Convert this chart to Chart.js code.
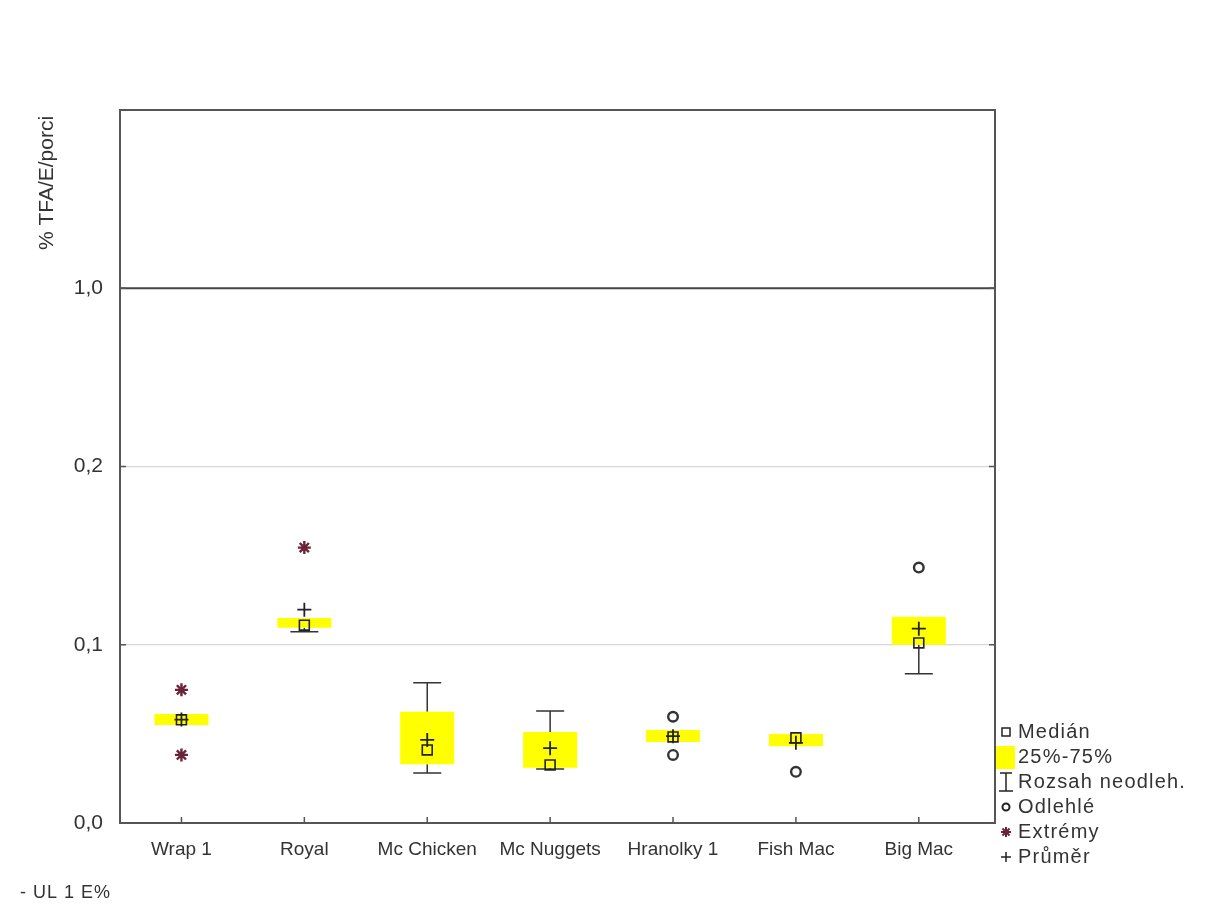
<!DOCTYPE html>
<html>
<head>
<meta charset="utf-8">
<script src="https://cdn.jsdelivr.net/npm/chart.js@4.4.0/dist/chart.umd.min.js"></script>
<style>
  html, body { margin: 0; padding: 0; background: #fff; }
</style>
</head>
<body>
<canvas id="tfaChart" width="1209" height="908"></canvas>
<script>
// categories and per-product statistics (% TFA/E/porci)
const categories = ['Wrap 1', 'Royal', 'Mc Chicken', 'Mc Nuggets', 'Hranolky 1', 'Fish Mac', 'Big Mac'];
const q1 = [0.0550, 0.1096, 0.0330, 0.0310, 0.0455, 0.0430, 0.1000];
const q3 = [0.0612, 0.1150, 0.0624, 0.0511, 0.0522, 0.0500, 0.1157];
const medians = [0.0579, 0.1110, 0.0410, 0.0326, 0.0483, 0.0478, 0.1010];
const means = [0.0580, 0.1197, 0.0466, 0.0420, 0.0487, 0.0450, 0.1090];
const whiskerLow = [0.0550, 0.1073, 0.0281, 0.0303, 0.0455, 0.0430, 0.0837];
const whiskerHigh = [0.0612, 0.1150, 0.0787, 0.0629, 0.0522, 0.0500, 0.1157];
const outliers = [[], [], [], [], [0.0596, 0.0382], [0.0287], [0.1433]];
const extremes = [[0.0747, 0.0382], [0.1545], [], [], [], [], []];

const tickValues = [0, 0.1, 0.2, 1.0];
const tickLabels = ['0,0', '0,1', '0,2', '1,0'];
const ulLimit = 1.0;

const legendLabels = ['Medián', '25%-75%', 'Rozsah neodleh.', 'Odlehlé', 'Extrémy', 'Průměr'];

const FONT = "'Liberation Sans', Arial, sans-serif";
const TEXT = '#333';
const STAR = '#6b2337';

// the original axis is broken: 0-0.1, 0.1-0.2 and 0.2-1.0 each take one step
function toAxis(v) {
    if (v <= 0.2) return v * 10;
    if (v <= 1) return 2 + (v - 0.2) / 0.8;
    return 3 + (v - 1) / 9;
}

function points(values) {
    const out = [];
    values.forEach((list, i) => list.forEach(v => out.push({x: i, y: toAxis(v)})));
    return out;
}

const boxExtras = {
    id: 'boxExtras',
    beforeDatasetsDraw(chart) {
        const {ctx, chartArea: a, scales: {x, y}} = chart;
        ctx.save();
        // whiskers
        ctx.strokeStyle = '#333';
        ctx.lineWidth = 1.5;
        categories.forEach((c, i) => {
            const cx = x.getPixelForValue(i);
            [[whiskerHigh[i], q3[i]], [whiskerLow[i], q1[i]]].forEach(([w, edge]) => {
                const yw = y.getPixelForValue(toAxis(w));
                const ye = y.getPixelForValue(toAxis(edge));
                if (Math.abs(yw - ye) < 1) return;
                ctx.beginPath();
                ctx.moveTo(cx, ye);
                ctx.lineTo(cx, yw);
                ctx.moveTo(cx - 14, yw);
                ctx.lineTo(cx + 14, yw);
                ctx.stroke();
            });
        });
        // UL 1 E% line
        const yul = y.getPixelForValue(toAxis(ulLimit));
        ctx.strokeStyle = '#444';
        ctx.lineWidth = 2;
        ctx.beginPath();
        ctx.moveTo(a.left, yul);
        ctx.lineTo(a.right, yul);
        ctx.stroke();
        ctx.restore();
    },
    afterDraw(chart) {
        const {ctx, chartArea: a, scales: {x, y}} = chart;
        ctx.save();
        // frame
        ctx.strokeStyle = '#555';
        ctx.lineWidth = 2;
        ctx.strokeRect(a.left, a.top, a.right - a.left, a.bottom - a.top);
        // inward tick marks
        ctx.lineWidth = 1.5;
        ctx.beginPath();
        tickValues.forEach(v => {
            const py = y.getPixelForValue(toAxis(v));
            ctx.moveTo(a.left, py); ctx.lineTo(a.left + 6, py);
            ctx.moveTo(a.right, py); ctx.lineTo(a.right - 6, py);
        });
        categories.forEach((c, i) => {
            const px = x.getPixelForValue(i);
            ctx.moveTo(px, a.bottom); ctx.lineTo(px, a.bottom - 6);
        });
        ctx.stroke();

        // y title
        ctx.fillStyle = TEXT;
        ctx.font = '21px ' + FONT;
        ctx.translate(47, 183);
        ctx.rotate(-Math.PI / 2);
        ctx.textAlign = 'center';
        ctx.textBaseline = 'middle';
        ctx.fillText('% TFA/E/porci', 0, 0);
        ctx.setTransform(1, 0, 0, 1, 0, 0);

        // note under the chart
        ctx.textAlign = 'left';
        ctx.letterSpacing = '1px';
        ctx.font = '18px ' + FONT;
        ctx.fillText('- UL 1 E%', 20, 893);

        // legend
        const lx = 1006, tx = 1018, y0 = 732, step = 25;
        ctx.font = '20px ' + FONT;
        ctx.letterSpacing = '1.2px';
        legendLabels.forEach((label, k) => {
            const ly = y0 + k * step;
            ctx.fillStyle = TEXT;
            ctx.fillText(label, tx, ly);
            ctx.strokeStyle = '#222';
            ctx.lineWidth = 1.5;
            ctx.beginPath();
            if (k === 0) {
                ctx.rect(lx - 4, ly - 4, 8, 8);
                ctx.stroke();
            } else if (k === 1) {
                ctx.fillStyle = '#ffff00';
                ctx.fillRect(lx - 10, ly - 11, 19, 23);
            } else if (k === 2) {
                ctx.moveTo(lx - 6, ly - 9); ctx.lineTo(lx + 6, ly - 9);
                ctx.moveTo(lx, ly - 9); ctx.lineTo(lx, ly + 9);
                ctx.moveTo(lx - 7, ly + 9); ctx.lineTo(lx + 7, ly + 9);
                ctx.stroke();
            } else if (k === 3) {
                ctx.lineWidth = 2;
                ctx.arc(lx, ly, 3.5, 0, Math.PI * 2);
                ctx.stroke();
            } else if (k === 4) {
                ctx.strokeStyle = STAR;
                ctx.lineWidth = 2;
                for (let r = 0; r < 4; r++) {
                    const ang = r * Math.PI / 4;
                    ctx.moveTo(lx - 5 * Math.cos(ang), ly - 5 * Math.sin(ang));
                    ctx.lineTo(lx + 5 * Math.cos(ang), ly + 5 * Math.sin(ang));
                }
                ctx.stroke();
            } else {
                ctx.moveTo(lx - 5, ly); ctx.lineTo(lx + 5, ly);
                ctx.moveTo(lx, ly - 5); ctx.lineTo(lx, ly + 5);
                ctx.stroke();
            }
        });
        ctx.restore();
    }
};

const ctx = document.getElementById('tfaChart').getContext('2d');
new Chart(ctx, {
    type: 'bar',
    data: {
        datasets: [
            {
                type: 'line',
                label: 'Medián',
                data: medians.map((v, i) => ({x: i, y: toAxis(v)})),
                showLine: false,
                pointStyle: 'rect',
                pointRadius: 7,
                pointBorderWidth: 1.6,
                pointBorderColor: '#222',
                pointBackgroundColor: 'rgba(0,0,0,0)',
                order: 1
            },
            {
                type: 'line',
                label: 'Průměr',
                data: means.map((v, i) => ({x: i, y: toAxis(v)})),
                showLine: false,
                pointStyle: 'cross',
                pointRadius: 7,
                pointBorderWidth: 1.8,
                pointBorderColor: '#222',
                order: 0
            },
            {
                type: 'line',
                label: 'Odlehlé',
                data: points(outliers),
                showLine: false,
                pointStyle: 'circle',
                pointRadius: 4.8,
                pointBorderWidth: 2.4,
                pointBorderColor: '#333',
                pointBackgroundColor: '#fff',
                order: 2
            },
            {
                type: 'line',
                label: 'Extrémy',
                data: points(extremes),
                showLine: false,
                pointStyle: 'star',
                pointRadius: 6.5,
                pointBorderWidth: 2.4,
                pointBorderColor: STAR,
                order: 2
            },
            {
                label: '25%-75%',
                data: q1.map((v, i) => ({x: i, y: [toAxis(v), toAxis(q3[i])]})),
                backgroundColor: '#ffff00',
                borderWidth: 0,
                barPercentage: 0.44,
                categoryPercentage: 1,
                order: 10
            }
        ]
    },
    options: {
        responsive: false,
        animation: false,
        devicePixelRatio: 1,
        layout: {padding: {top: 110, right: 214, bottom: 0, left: 0}},
        plugins: {
            legend: {display: false},
            tooltip: {enabled: false}
        },
        scales: {
            x: {
                type: 'linear',
                min: -0.5,
                max: 6.62,
                offset: false,
                afterBuildTicks: s => { s.ticks = categories.map((c, i) => ({value: i})); },
                grid: {display: false, drawTicks: false, offset: false},
                border: {display: false},
                ticks: {
                    color: TEXT,
                    font: {size: 19, family: FONT},
                    padding: 15,
                    maxRotation: 0,
                    autoSkip: false,
                    callback: v => categories[v]
                },
                afterFit: s => { s.height = 85; }
            },
            y: {
                min: 0,
                max: 4,
                afterBuildTicks: s => { s.ticks = tickValues.map(v => ({value: toAxis(v)})); },
                afterFit: s => { s.width = 120; },
                grid: {
                    drawTicks: false,
                    lineWidth: 1.2,
                    color: c => (c.index === 1 || c.index === 2) ? '#d8d8d8' : 'rgba(0,0,0,0)'
                },
                border: {display: false},
                ticks: {
                    color: TEXT,
                    padding: 17,
                    font: {size: 21, family: FONT},
                    callback: (v, i) => tickLabels[i]
                }
            }
        }
    },
    plugins: [boxExtras]
});
</script>
</body>
</html>
